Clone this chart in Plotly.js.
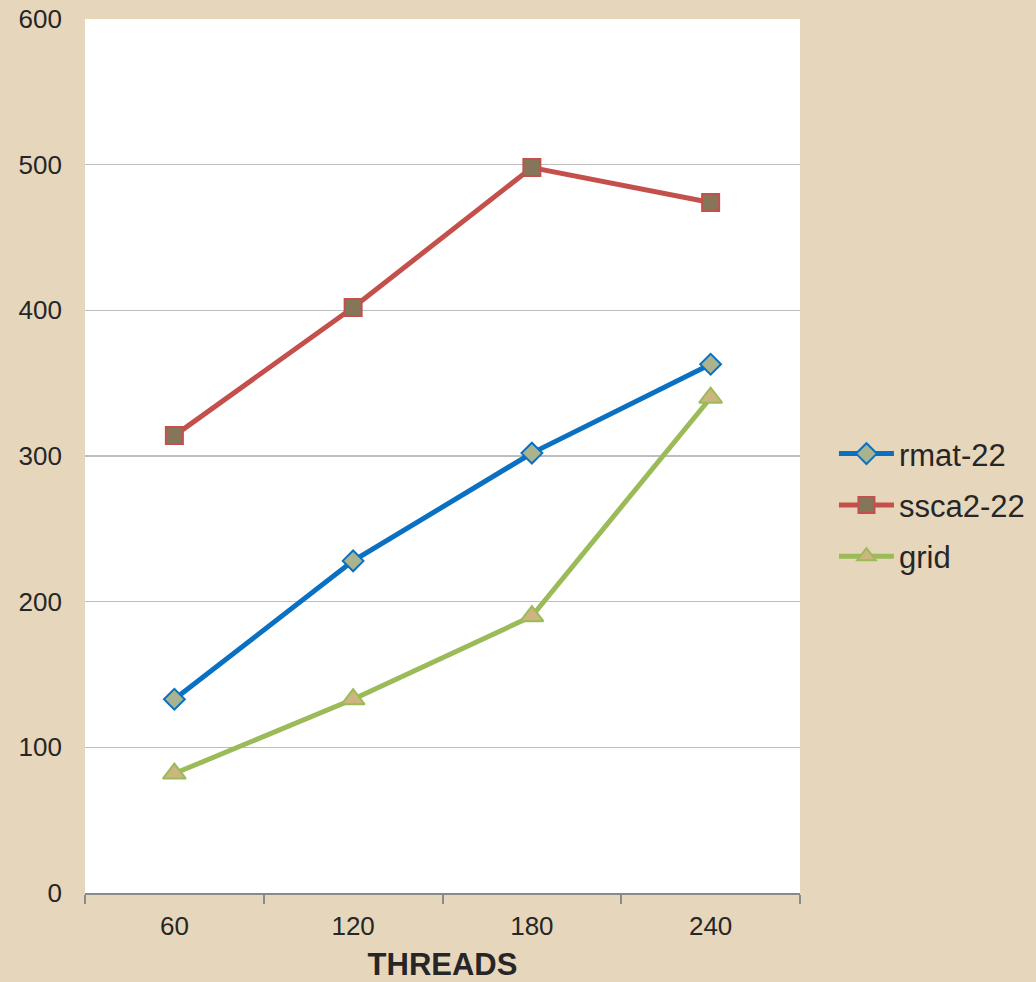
<!DOCTYPE html>
<html>
<head>
<meta charset="utf-8">
<script src="https://cdn.plot.ly/plotly-3.0.1.min.js"></script>
<style>
  html, body { margin: 0; padding: 0; background: #e6d6bc; }
  #chart { width: 1036px; height: 982px; }
</style>
</head>
<body>
<div id="chart"></div>
<script>
// Thread counts on the x axis
const threads = ['60', '120', '180', '240'];

// Series values per thread count
const rmat22 = [133, 228, 302, 363];
const ssca222 = [314, 402, 498, 474];
const grid = [82, 133, 190, 340];

const yTicks = [0, 100, 200, 300, 400, 500, 600];

const font = 'Liberation Sans, Arial, sans-serif';

function series(name, y, lineColor, symbol, fill, size) {
  return {
    x: threads,
    y: y,
    name: name,
    legendgroup: name,
    type: 'scatter',
    mode: 'lines+markers',
    line: { color: lineColor, width: 5 },
    marker: {
      symbol: symbol,
      size: size,
      color: fill,
      line: { color: lineColor, width: 2 }
    }
  };
}

const data = [
  series('rmat-22', rmat22, '#0a70c2', 'diamond', '#a9b48f', 16),
  series('ssca2-22', ssca222, '#c4504c', 'square', '#85765a', 17),
  series('grid', grid, '#9bbb59', 'triangle-up', '#ccb57e', 20)
];

const layout = {
  width: 1036,
  height: 982,
  paper_bgcolor: '#e6d6bc',
  plot_bgcolor: '#ffffff',
  margin: { l: 85, r: 236, t: 19, b: 89, pad: 0, autoexpand: false },
  font: { family: font, color: '#262626', size: 26 },
  showlegend: true,
  legend: {
    x: 1.0475, xanchor: 'left',
    y: 0.444, yanchor: 'middle',
    bgcolor: 'rgba(0,0,0,0)',
    font: { family: font, size: 31, color: '#262626' },
    itemwidth: 55,
    traceorder: 'grouped',
    tracegroupgap: 8
  },
  xaxis: {
    type: 'category',
    categoryorder: 'array',
    categoryarray: threads,
    range: [-0.5, 3.5],
    tickson: 'boundaries',
    ticks: 'outside',
    ticklen: 9,
    tickwidth: 2,
    tickcolor: '#8a8a8a',
    showline: true,
    linecolor: '#8a8a8a',
    linewidth: 2,
    showgrid: false,
    zeroline: false,
    ticklabelstandoff: 9,
    tickfont: { family: font, size: 26, color: '#262626' },
    title: {
      text: '<b>THREADS</b>',
      font: { family: font, size: 31, color: '#262626' },
      standoff: 14
    }
  },
  yaxis: {
    range: [0, 600],
    tickvals: yTicks,
    ticktext: yTicks.map(String),
    ticks: '',
    showline: false,
    showgrid: true,
    gridcolor: '#bdbdbd',
    gridwidth: 1.5,
    zeroline: false,
    ticklabelstandoff: 22,
    tickfont: { family: font, size: 26, color: '#262626' }
  }
};

Plotly.newPlot('chart', data, layout, { displayModeBar: false, staticPlot: true });
</script>
</body>
</html>
